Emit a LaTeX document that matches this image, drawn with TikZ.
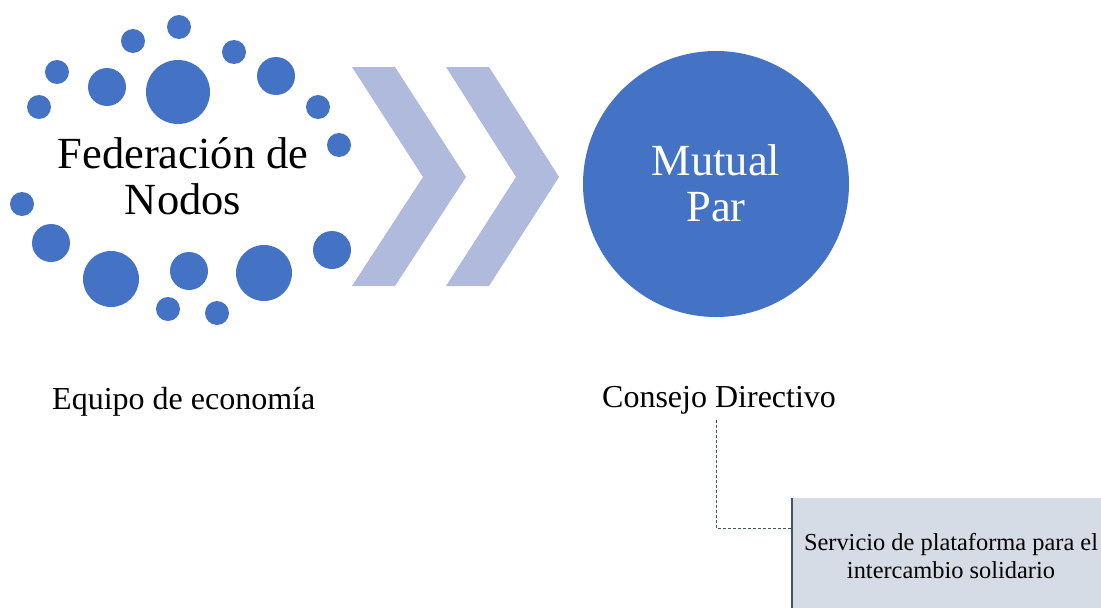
\documentclass[tikz,border=0pt]{standalone}
\usepackage{fontspec}
\setmainfont{Liberation Serif}
\definecolor{dotblue}{HTML}{4472C4}
\definecolor{chev}{HTML}{AFBADD}
\definecolor{boxfill}{HTML}{D6DCE5}
\definecolor{lineg}{HTML}{44546A}
\tikzset{
  dot/.style={fill=dotblue, draw=none},
  chevshape/.style={fill=chev, draw=none},
  lbl/.style={inner sep=0pt, align=center, text=black},
  bigtxt/.style={lbl, anchor=base, font=\fontsize{44.5}{47}\selectfont},
  midtxt/.style={lbl, anchor=base west, font=\fontsize{32}{36}\selectfont},
  smalltxt/.style={lbl, anchor=base, font=\fontsize{24.4}{27}\selectfont}
}
\begin{document}
\begin{tikzpicture}[x=1pt,y=-1pt]
\useasboundingbox (0,0) rectangle (1101,608);
% dots
\foreach \x/\y/\r in {179/27/12,133/41/12,234/52/12,57/72/12,107/87/19,178/92/32,276/76/19,39/107/12,318/107/12,339/145/12,22/204/12,51/243/19,111/279/28,189/271/19,264/273/28,332/250/19,168/309/12,217/313/12}
  \fill[dot] (\x,\y) circle (\r);
\node[bigtxt] (fed1) at (183,168) {Federación de};
\node[bigtxt] (fed2) at (183,214) {Nodos};
% chevrons
\fill[chevshape] (352,67) -- (395,67) -- (466,177) -- (395,286) -- (352,286) -- (423,177) -- cycle;
\fill[chevshape] (446,67) -- (489,67) -- (559,177) -- (489,286) -- (446,286) -- (516,177) -- cycle;
% big circle
\node[circle, fill=dotblue, minimum size=266pt, inner sep=0pt] (mp) at (716,184) {};
\node[bigtxt, text=white] (mp1) at (716,175) {Mutual};
\node[bigtxt, text=white] (mp2) at (716,221) {Par};
% labels
\node[midtxt] (eq) at (52,409) {Equipo de economía};
\node[midtxt] (cd) at (602,407) {Consejo Directivo};
% box
\node[rectangle, fill=boxfill, draw=none, minimum width=310pt, minimum height=110pt, anchor=north west, inner sep=0pt] (sv) at (792,498) {};
\draw[lineg, line width=1.5pt] (sv.north west) -- (sv.south west);
\node[smalltxt] (sv1) at (951,550) {Servicio de plataforma para el};
\node[smalltxt] (sv2) at (951,578) {intercambio solidario};
\coordinate (c1) at (716,420);
\draw[lineg, densely dashed, line width=0.9pt] (c1) |- (sv.west |- 0,528);
\end{tikzpicture}
\end{document}
